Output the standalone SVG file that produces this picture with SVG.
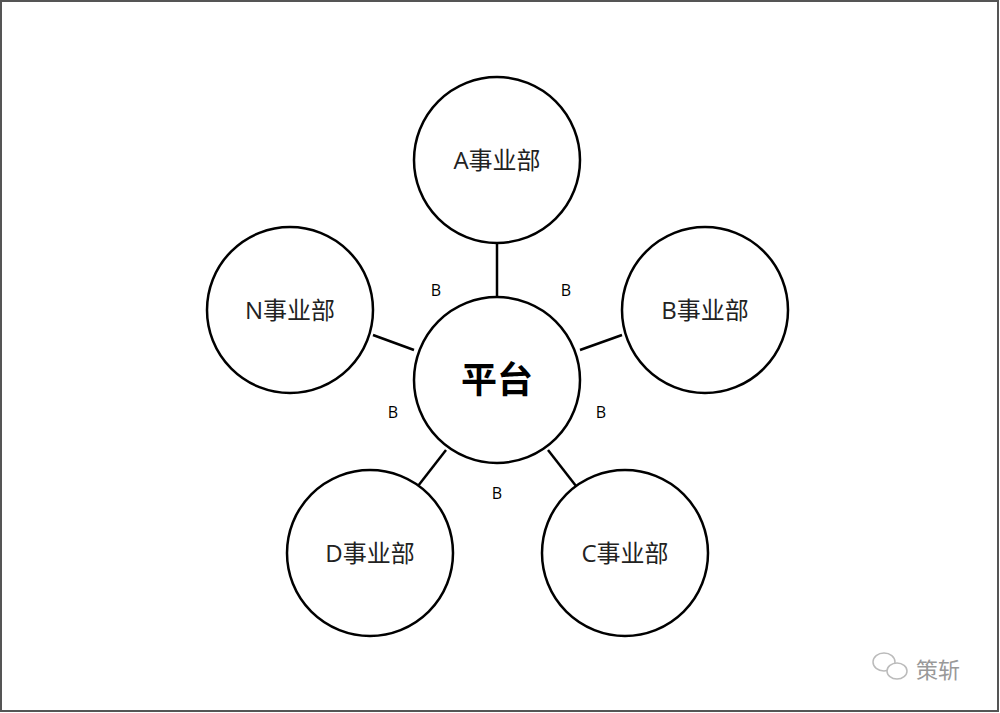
<svg xmlns="http://www.w3.org/2000/svg" width="1000" height="713" viewBox="0 0 1000 713">
<style>
.n{fill:#fff;stroke:#000;stroke-width:2.5}
.t{font-family:"Open Sans","Noto Sans CJK SC",sans-serif;font-size:24px;text-anchor:middle;fill:#222}
.b{font-family:"Open Sans",sans-serif;font-size:16px;text-anchor:middle;fill:#000}
.c line{stroke:#000;stroke-width:2.5}
</style>
<rect x="0" y="0" width="1000" height="713" fill="#fff"/>
<rect x="1" y="1" width="997" height="710" fill="none" stroke="#555" stroke-width="2"/>
<g class="c">
<line x1="497" y1="243" x2="497" y2="297"/>
<line x1="580" y1="350" x2="622" y2="335"/>
<line x1="373" y1="335" x2="414" y2="350"/>
<line x1="418" y1="486" x2="446" y2="450"/>
<line x1="548" y1="450" x2="576" y2="486"/>
</g>
<g id="platform"><circle class="n" cx="497" cy="380" r="83"/><text x="497" y="393" font-family="'Noto Sans CJK SC',sans-serif" font-size="36" font-weight="bold" text-anchor="middle">平台</text></g>
<g id="a"><circle class="n" cx="497" cy="160" r="83"/><text class="t" x="497" y="169">A事业部</text></g>
<g id="b"><circle class="n" cx="705" cy="310" r="83"/><text class="t" x="705" y="319">B事业部</text></g>
<g id="n"><circle class="n" cx="290" cy="310" r="83"/><text class="t" x="290" y="319">N事业部</text></g>
<g id="d"><circle class="n" cx="370" cy="553" r="83"/><text class="t" x="370" y="562">D事业部</text></g>
<g id="cc"><circle class="n" cx="625" cy="553" r="83"/><text class="t" x="625" y="562">C事业部</text></g>
<g id="labels">
<text class="b" x="436" y="296">B</text>
<text class="b" x="566" y="296">B</text>
<text class="b" x="393" y="418">B</text>
<text class="b" x="601" y="418">B</text>
<text class="b" x="497" y="499">B</text>
</g>
<g id="wm" fill="none" stroke="#bbb" stroke-width="1.5">
<ellipse cx="884" cy="662" rx="11" ry="9"/>
<ellipse cx="897" cy="671" rx="10" ry="8" fill="#fff"/>
<text x="938" y="678" font-family="'Noto Sans CJK SC',sans-serif" font-size="22" fill="#999" stroke="none" text-anchor="middle">策斩</text>
</g>
</svg>
